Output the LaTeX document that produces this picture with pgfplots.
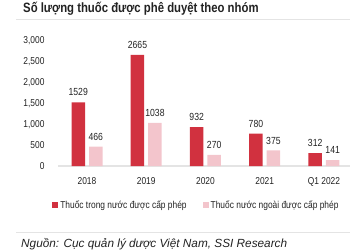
\documentclass[border=0pt]{standalone}
\usepackage{pgfplots}
\pgfplotsset{compat=1.18}
\usepackage{fontspec}
\setmainfont{Liberation Sans}[FakeStretch=0.84]
\newfontfamily\plainfont{Liberation Sans}
\definecolor{mred}{HTML}{D1313F}
\definecolor{mpink}{HTML}{F3C5CC}
\definecolor{mtxt}{HTML}{222222}
\definecolor{mline}{HTML}{E4E4E4}
\begin{document}
\begin{tikzpicture}
\path[use as bounding box] (0pt,0pt) rectangle (350pt,250pt);
\node[anchor=west,font=\bfseries\fontsize{13.5}{14}\selectfont,text=mtxt,inner sep=0] at (23pt,241pt) {Số lượng thuốc được phê duyệt theo nhóm};
\draw[mline,line width=1pt] (16pt,231pt) -- (350pt,231pt);
\draw[mline,line width=1pt] (16pt,18pt) -- (350pt,18pt);
\node[anchor=west,font=\plainfont\itshape\fontsize{11.8}{13}\selectfont,text=mtxt,inner sep=0] at (21pt,6pt) {Nguồn: Cục quản lý dược Việt Nam, SSI Research};
\begin{axis}[
  at={(87pt,84pt)}, anchor=origin,
  scale only axis, width=292pt, height=125pt,
  xmin=-0.49, xmax=4.44, ymin=0, ymax=3000,
  ybar=4pt, bar width=13.5pt,
  axis lines=left,
  x axis line style={mline,line width=1.2pt,-},
  y axis line style={draw=none},
  major tick length=0pt,
  xtick={0,1,2,3,4},
  xticklabels={2018,2019,2020,2021,Q1 2022},
  ytick={0,500,1000,1500,2000,2500,3000},
  yticklabel style={/pgf/number format/1000 sep={,}},
  /pgf/number format/assume math mode=true,
  tick label style={font=\fontsize{10}{11}\selectfont,text=mtxt},
  xticklabel style={yshift=-8pt},
  yticklabel style={xshift=-10pt},
  clip=false,
  nodes near coords,
  every node near coord/.append style={font=\fontsize{10.3}{11}\selectfont,text=mtxt,inner sep=1pt,yshift=5pt,/pgf/number format/1000 sep={}},
  legend style={at={(0.474,-0.312)},anchor=center,draw=none,fill=none,legend columns=2,
    font=\fontsize{10}{11}\selectfont,text=mtxt,
    /tikz/every even column/.append style={column sep=14pt},
    inner sep=0pt},
  legend image code/.code={\fill[#1] (0pt,-3pt) rectangle (6pt,3pt);},
]
\addplot[fill=mred,draw=none] coordinates {(0,1529) (1,2665) (2,932) (3,780) (4,312)};
\addlegendentry{Thuốc trong nước được cấp phép}
\addplot[fill=mpink,draw=none] coordinates {(0,466) (1,1038) (2,270) (3,375) (4,141)};
\addlegendentry{Thuốc nước ngoài được cấp phép}
\end{axis}
\end{tikzpicture}
\end{document}
